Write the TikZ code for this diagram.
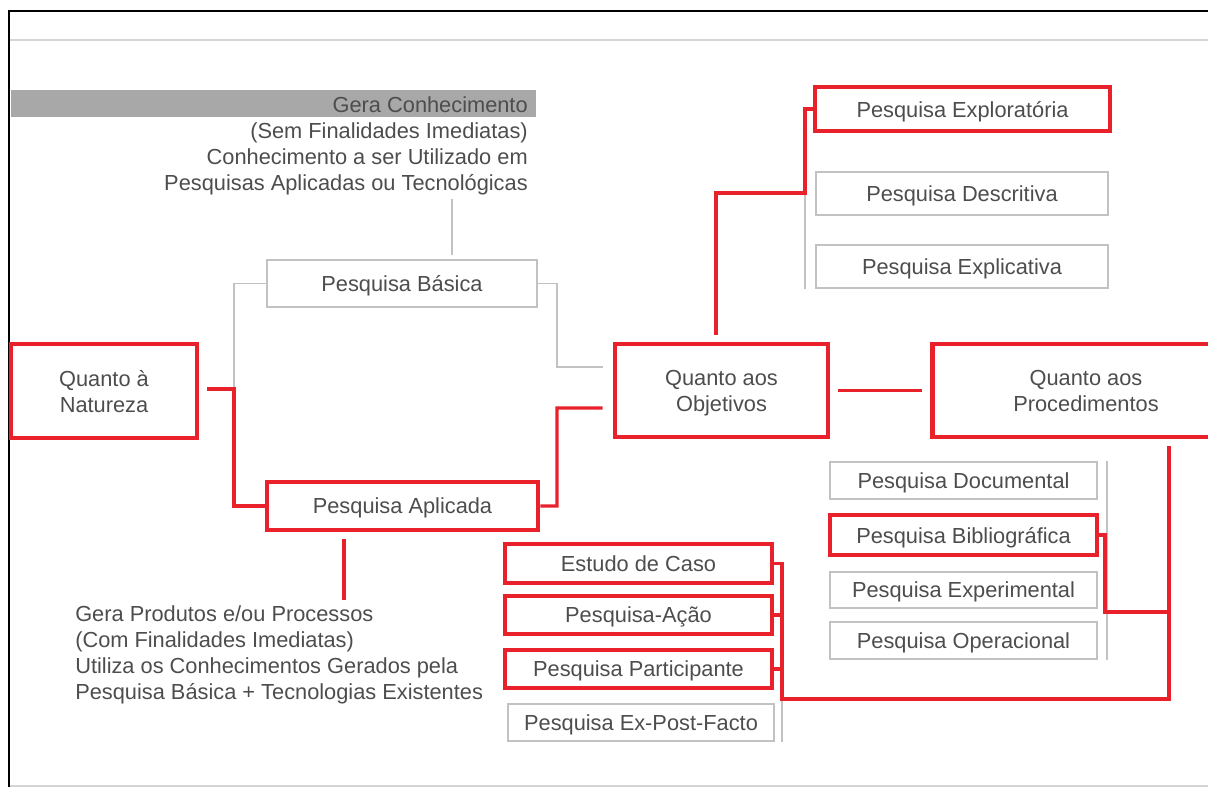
\documentclass[tikz,border=0pt]{standalone}
\usepackage{fontspec}
\setmainfont{Liberation Sans}
\usepackage{tikz}
\usetikzlibrary{positioning,calc}
\usepackage{xcolor}
\definecolor{mapred}{HTML}{E8212B}
\definecolor{boxgray}{HTML}{C2C2C2}
\definecolor{textgray}{HTML}{4D4D4D}
\definecolor{bargray}{HTML}{A8A8A8}

\begin{document}
\begin{tikzpicture}[x=0.025cm,y=-0.025cm,
  every node/.style={font=\fontsize{15.5}{18.5}\selectfont,text=textgray},
  redbox/.style={draw=mapred,line width=3.2pt,align=center,inner sep=0pt,text depth=0pt},
  graybox/.style={draw=boxgray,line width=1.2pt,align=center,inner sep=0pt,text depth=0pt},
  redline/.style={draw=mapred,line width=2.2pt},
  grayline/.style={draw=boxgray,line width=1pt}]
\useasboundingbox (0,0) rectangle (1208,787);
\clip (0,0) rectangle (1208,787);
% frame and rules
\draw[line width=1.4pt] (9,787) -- (9,11) -- (1208,11);
\draw[boxgray!70,line width=1.5pt] (10,40) -- (1208,40);
\draw[boxgray!70,line width=1.5pt] (10,786) -- (1208,786);
\fill[bargray] (11,90) rectangle (536,117);
% texts
\node[anchor=east,align=right,inner sep=0pt] (basicatxt) at (528,146) {Gera Conhecimento\\(Sem Finalidades Imediatas)\\Conhecimento a ser Utilizado em\\Pesquisas Aplicadas ou Tecnológicas};
\node[anchor=west,align=left,inner sep=0pt] (aplicadatxt) at (75,655) {Gera Produtos e/ou Processos\\(Com Finalidades Imediatas)\\Utiliza os Conhecimentos Gerados pela\\Pesquisa Básica + Tecnologias Existentes};
% main boxes
\node[redbox,minimum width=4.65cm,minimum height=2.35cm] (natureza) at (104,391) {Quanto à\\Natureza};
\node[graybox,minimum width=6.75cm,minimum height=1.175cm] (basica) at (402,283.5) {Pesquisa Básica};
\node[redbox,minimum width=6.775cm,minimum height=1.2cm] (aplicada) at (402.5,506) {Pesquisa Aplicada};
\node[redbox,minimum width=5.325cm,minimum height=2.325cm] (objetivos) at (721.5,390.5) {Quanto aos\\Objetivos};
\node[redbox,minimum width=7.675cm,minimum height=2.325cm] (procedimentos) at (1086,390.5) {Quanto aos\\Procedimentos};
% objetivos
\node[redbox,minimum width=7.375cm,minimum height=1.1cm] (explor) at (962.5,109) {Pesquisa Exploratória};
\node[graybox,minimum width=7.3cm,minimum height=1.075cm] (descr) at (962,193.5) {Pesquisa Descritiva};
\node[graybox,minimum width=7.3cm,minimum height=1.075cm] (explic) at (962,266.5) {Pesquisa Explicativa};
% procedimentos
\node[graybox,minimum width=6.675cm,minimum height=0.925cm] (docum) at (963.5,480.5) {Pesquisa Documental};
\node[redbox,minimum width=6.675cm,minimum height=1cm] (biblio) at (963.5,535) {Pesquisa Bibliográfica};
\node[graybox,minimum width=6.675cm,minimum height=0.9cm] (exper) at (963.5,590) {Pesquisa Experimental};
\node[graybox,minimum width=6.675cm,minimum height=0.925cm] (operac) at (963.5,640.5) {Pesquisa Operacional};
\node[redbox,minimum width=6.675cm,minimum height=0.975cm] (caso) at (638.5,563.5) {Estudo de Caso};
\node[redbox,minimum width=6.675cm,minimum height=0.95cm] (acao) at (638.5,615) {Pesquisa-Ação};
\node[redbox,minimum width=6.675cm,minimum height=0.95cm] (partic) at (638.5,669) {Pesquisa Participante};
\node[graybox,minimum width=6.65cm,minimum height=0.925cm] (expost) at (641,722.5) {Pesquisa Ex-Post-Facto};
% junctions
\coordinate (jn) at (234,389);
\coordinate (jo) at (805,193);
\coordinate (jp) at (1169,612);
\coordinate (jc) at (782,699);
% gray connectors
\draw[grayline] ($(basica.north)+(50,-4)$) -- ++(0,-56);
\draw[grayline] (basica.west) -| (jn);
\draw[grayline] (basica.east) -| (557,367) -- ($(objetivos.west)+(-10,-23.5)$);
\draw[grayline] (jo) -- (jo |- explic.south);
\draw[grayline] ($(docum.north east)+(9,0)$) -- ($(operac.south east)+(9,0)$);
\draw[grayline] (jc) -- (jc |- expost.south);
% red connectors
\draw[redline] ($(natureza.east)+(8,-2)$) -- (jn) |- (aplicada.west);
\draw[redline] (aplicada.east) -| (557,408) -- ($(objetivos.west)+(-10,17.5)$);
\draw[redline] ($(aplicada.south)+(-58.5,7)$) -- ++(0,61);
\draw[redline] ($(objetivos.north)+(-5.5,-7)$) |- (jo) |- (explor.west);
\draw[redline,shorten <=0.2cm,shorten >=0.2cm] (objetivos) -- (procedimentos);
\draw[redline] ($(procedimentos.south)+(83,7)$) -- (jp) -- (jp |- jc) -- (jc) |- (caso.east);
\draw[redline] (jp) -| (1105,535) -- (biblio.east);
\draw[redline] (jc |- acao.east) -- (acao.east);
\draw[redline] (jc |- partic.east) -- (partic.east);
\end{tikzpicture}
\end{document}
